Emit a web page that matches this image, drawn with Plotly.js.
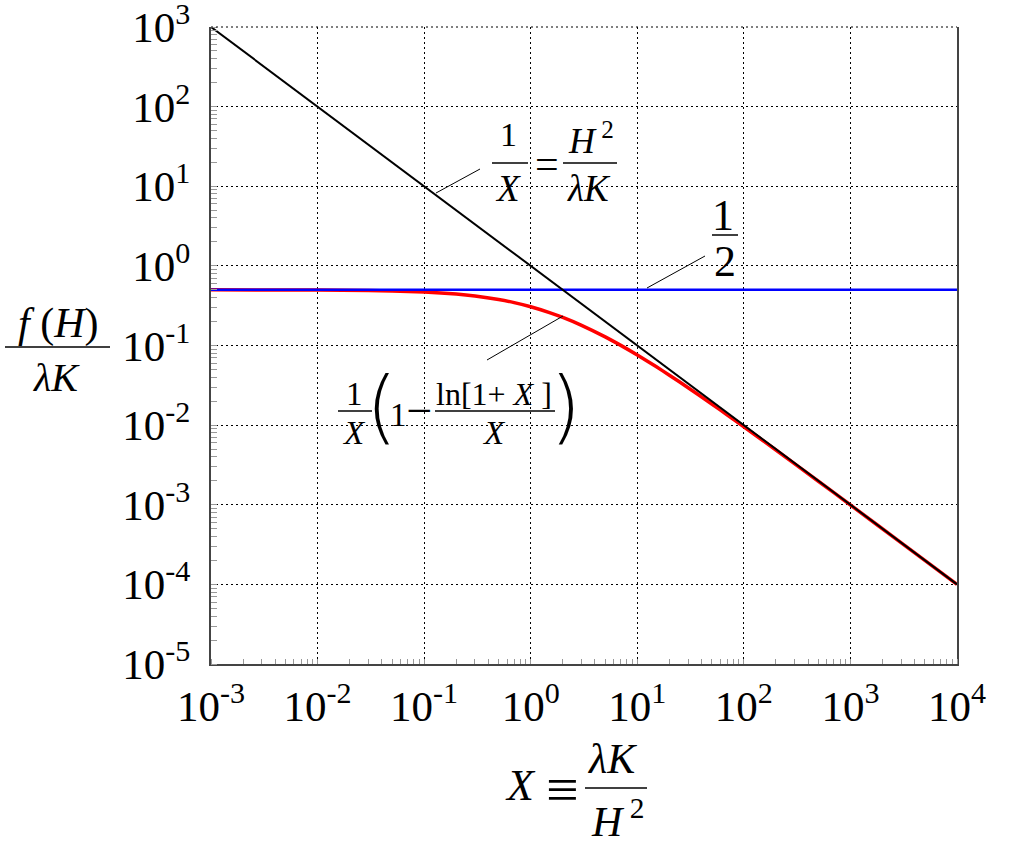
<!DOCTYPE html>
<html><head><meta charset="utf-8">
<script src="https://cdn.plot.ly/plotly-3.0.1.min.js"></script>
<style>html,body{margin:0;padding:0;background:#fff}</style>
</head><body>
<div id="chart" style="width:1024px;height:857px"></div>
<script>
// ---- data ----
const xRed = [0.001, 0.003, 0.01, 0.03, 0.05, 0.1, 0.2, 0.3, 0.5, 0.7, 1, 1.5, 2, 3, 5, 7, 10, 15, 20, 30, 50, 70, 100, 200, 500, 1000, 3000, 10000];
const yRed = [0.4997, 0.4990, 0.4967, 0.4902, 0.4839, 0.4690, 0.4420, 0.4182, 0.3781, 0.3457, 0.3069, 0.2594, 0.2253, 0.1793, 0.1283, 0.1004, 0.0760, 0.05434, 0.0424, 0.02952, 0.01843, 0.013416, 0.00954, 0.004867, 0.001975, 0.000993, 0.0003324, 0.0000999];
const xHalf = [0.001, 10000];
const yHalf = [0.5, 0.5];
const xInv = [0.001, 10000];
const yInv = [1000, 0.0001];
const xTickVals = [0.001, 0.01, 0.1, 1, 10, 100, 1000, 10000];
const xTickText = ['10<sup>-3</sup>', '10<sup>-2</sup>', '10<sup>-1</sup>', '10<sup>0</sup>', '10<sup>1</sup>', '10<sup>2</sup>', '10<sup>3</sup>', '10<sup>4</sup>'];
const yTickVals = [0.00001, 0.0001, 0.001, 0.01, 0.1, 1, 10, 100, 1000];
const yTickText = ['10<sup>-5</sup>', '10<sup>-4</sup>', '10<sup>-3</sup>', '10<sup>-2</sup>', '10<sup>-1</sup>', '10<sup>0</sup>', '10<sup>1</sup>', '10<sup>2</sup>', '10<sup>3</sup>'];

// ---- layout helpers (pixel -> paper) ----
const L = 211, R = 957, T = 27, B = 664;
const px = v => (v - L) / (R - L);
const py = v => (B - v) / (B - T);
const FONT = 'Liberation Serif, Times New Roman, serif';

function ann(text, x, y, size, family, weight) {
  return {text: text, xref: 'paper', yref: 'paper', x: px(x), y: py(y),
    xanchor: 'center', yanchor: 'middle', showarrow: false,
    font: {family: family || FONT, size: size, color: '#000', weight: weight || 'normal'}};
}
function seg(x0, y0, x1, y1, w, dash) {
  return {type: 'line', xref: 'paper', yref: 'paper', x0: px(x0), y0: py(y0), x1: px(x1), y1: py(y1),
    line: {color: '#000', width: w || 1, dash: dash || 'solid'}};
}

const PAREN = 'DejaVu Sans, sans-serif';
const annotations = [
  // 1/X = H^2/(lambda K)
  ann('1', 508, 134, 34), ann('<i>X</i>', 508, 188, 37), ann('=', 547, 164, 42),
  ann('<i>H</i><sup> 2</sup>', 591, 138, 36), ann('<i>λK</i>', 589, 188, 37),
  // 1/2
  ann('1', 723, 215, 44), ann('2', 725, 261, 44),
  // red formula
  ann('1', 354, 394, 33), ann('<i>X</i>', 354, 433, 33),
  ann('(', 381, 406, 80, PAREN, 200),
  ann('1<span style="font-size:46px">−</span>', 411, 410, 33),
  ann('ln[1+ <i>X</i> ]', 494, 394, 32), ann('<i>X</i>', 494, 433, 33),
  ann(')', 565, 406, 80, PAREN, 200),
  // y title
  ann('<i>f</i> (<i>H</i>)', 58, 324, 42), ann('<i>λK</i>', 56, 378, 40),
  // x title
  ann('<i>X</i>', 520, 785, 44), ann('≡', 562, 789, 58),
  ann('<i>λK</i>', 612, 759, 42), ann('<i>H</i><sup> 2</sup>', 617, 818, 42)
];

const shapes = [
  // top frame edge, dotted like the grid
  seg(L, T, R, T, 1, '2px,3px'),
  seg(492, 163, 528, 163, 1.3), seg(563, 163, 617, 163, 1.3),
  seg(712, 235, 738, 235, 1.5),
  seg(338, 411, 372, 411, 1.3), seg(435, 411, 555, 411, 1.3),
  seg(5, 347, 110, 347, 1.5),
  seg(585, 788, 647, 788, 1.5),
  // leader lines
  seg(436, 193, 480, 169, 1), seg(647, 288, 705, 256, 1), seg(563, 316, 487, 360, 1)
];

const axisCommon = {
  type: 'log', tickmode: 'array', showgrid: true, gridcolor: '#000', griddash: '2px,3px', gridwidth: 1,
  showline: true, linecolor: '#444', linewidth: 2, ticks: '', zeroline: false, ticklabeloverflow: 'allow',
  tickfont: {family: FONT, size: 43, color: '#000'},
  minor: {ticks: 'inside', ticklen: 6, tickcolor: '#999', tickwidth: 1, dtick: 'D1', showgrid: false}
};

const traces = [
  {x: xRed, y: yRed, mode: 'lines', line: {color: '#ff0000', width: 3.5, shape: 'spline', smoothing: 0.6}, hoverinfo: 'skip'},
  {x: xHalf, y: yHalf, mode: 'lines', line: {color: '#0000ff', width: 2.5}, hoverinfo: 'skip'},
  {x: xInv, y: yInv, mode: 'lines', line: {color: '#000000', width: 2}, hoverinfo: 'skip', cliponaxis: false}
];

const layout = {
  width: 1024, height: 857, showlegend: false, hovermode: false,
  paper_bgcolor: '#fff', plot_bgcolor: '#fff',
  margin: {l: L, r: 1024 - R, t: T, b: 857 - B, pad: 0},
  xaxis: Object.assign({}, axisCommon, {range: [-3.00001, 4.00001], tickvals: xTickVals, ticktext: xTickText, ticklabelstandoff: 3,
    minor: Object.assign({}, axisCommon.minor, {ticklen: 5})}),
  yaxis: Object.assign({}, axisCommon, {range: [-5.00001, 3.00001], tickvals: yTickVals, ticktext: yTickText, mirror: true, ticklabelstandoff: 10}),
  annotations: annotations, shapes: shapes
};

Plotly.newPlot('chart', traces, layout, {staticPlot: true, displayModeBar: false});
</script>
</body></html>
